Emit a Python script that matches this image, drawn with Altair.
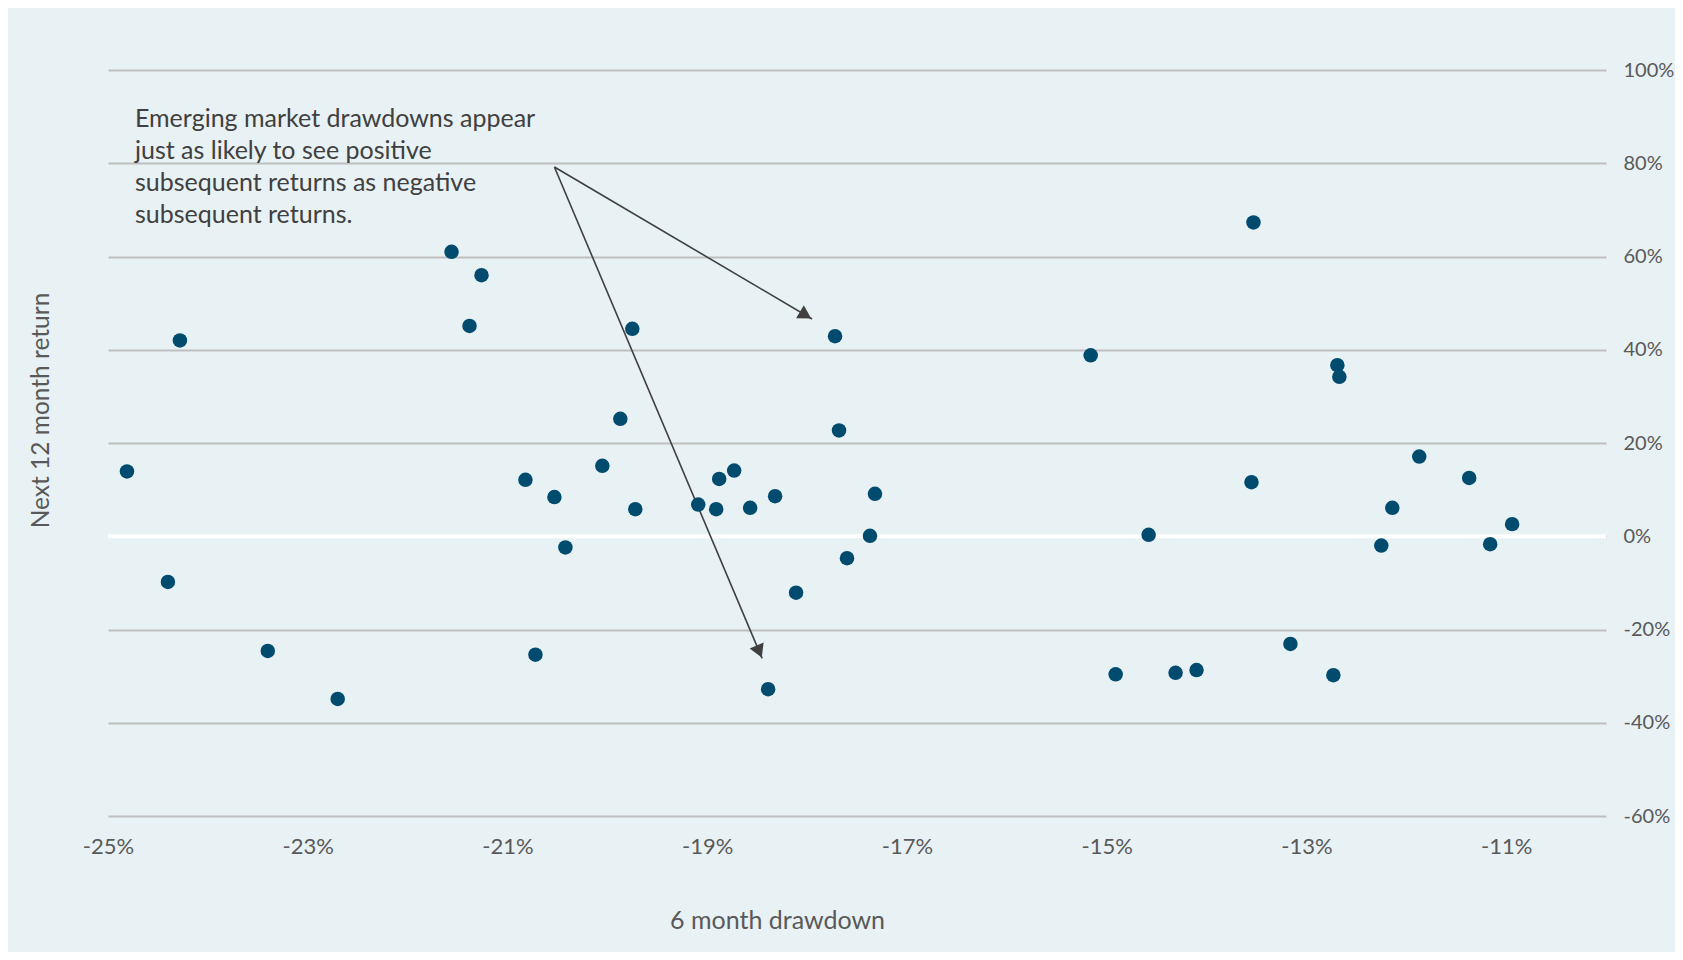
import math
import altair as alt
import pandas as pd

# ---- data ----
drawdown = [-24.81, -24.28, -24.40, -23.40, -22.70, -21.56, -21.26, -21.38, -20.82, -20.72,
            -20.53, -20.42, -20.05, -19.87, -19.75, -19.72, -19.09, -18.91, -18.88, -18.73,
            -18.57, -18.32, -18.39, -18.11, -17.72, -17.68, -17.60, -17.37, -17.32, -15.16,
            -14.91, -14.58, -14.31, -14.10, -13.53, -13.55, -13.16, -12.73, -12.69, -12.67,
            -12.25, -12.14, -11.87, -11.37, -11.16, -10.94]
next_return = [13.9, 42.0, -9.8, -24.6, -34.9, 61.0, 56.0, 45.1, 12.1, -25.4,
               8.4, -2.4, 15.1, 25.2, 44.5, 5.8, 6.8, 5.8, 12.3, 14.1,
               6.1, 8.6, -32.8, -12.1, 42.9, 22.7, -4.7, 0.1, 9.1, 38.8,
               -29.6, 0.3, -29.3, -28.7, 67.3, 11.6, -23.1, -29.8, 36.7, 34.2,
               -2.0, 6.1, 17.1, 12.5, -1.7, 2.6]

x_ticks = [-25, -23, -21, -19, -17, -15, -13, -11]
y_ticks = [-60, -40, -20, 0, 20, 40, 60, 80, 100]
x_domain = [-25, -10]
y_domain = [-60, 100]

note_text = ["Emerging market drawdowns appear", "just as likely to see positive",
             "subsequent returns as negative", "subsequent returns."]
note_pos = [-24.73, 92.0]

arrow_start = [-20.53, 79.2]
arrow_ends_x = [-17.95, -18.45]
arrow_ends_y = [46.6, -26.2]

# ---- layout ----
W, H = 1498, 746
BG = "#E8F1F4"
FONT = "Lato"
TXT = "#595959"
DARK = "#404040"

px_x = W / (x_domain[1] - x_domain[0])
px_y = H / (y_domain[1] - y_domain[0])

pts = pd.DataFrame({"x": drawdown, "y": next_return})

# arrows: shafts and heads
shafts = pd.DataFrame({
    "x": [arrow_start[0]] * 2, "y": [arrow_start[1]] * 2,
    "x2": arrow_ends_x, "y2": arrow_ends_y,
})
head_r = 7.5
hx, hy, ha = [], [], []
for ex, ey in zip(arrow_ends_x, arrow_ends_y):
    dxp = (ex - arrow_start[0]) * px_x
    dyp = -(ey - arrow_start[1]) * px_y
    L = math.hypot(dxp, dyp)
    ux, uy = dxp / L, dyp / L
    ha.append(math.degrees(math.atan2(dxp, -dyp)) % 360)
    hx.append(ex - ux * head_r / px_x)
    hy.append(ey + uy * head_r / px_y)
heads = pd.DataFrame({"x": hx, "y": hy, "a": ha})

xscale = alt.Scale(domain=x_domain, nice=False, zero=False)
yscale = alt.Scale(domain=y_domain, nice=False, zero=False)

xaxis = alt.Axis(values=x_ticks, labelExpr="datum.value + '%'", title="6 month drawdown",
                 grid=False, domain=False, ticks=False, labelPadding=20, labelFlush=False,
                 labelFontSize=22, labelColor=TXT, labelFont=FONT,
                 titleX=669, titleY=104, titleFontSize=25, titleFontWeight="normal",
                 titleColor=TXT, titleFont=FONT, titleAlign="center", titleBaseline="middle")
yaxis = alt.Axis(orient="right", values=y_ticks, labelExpr="datum.value + '%'",
                 title="Next 12 month return", grid=True, gridColor="#BFBFBF", gridWidth=2,
                 domain=False, ticks=False, labelPadding=17, labelAlign="left", labelFlush=False,
                 labelFontSize=20, labelColor=TXT, labelFont=FONT,
                 titleAngle=270, titleX=-(W + 67), titleY=340, titleFontSize=24.5,
                 titleFontWeight="normal", titleColor=TXT, titleFont=FONT,
                 titleAlign="center", titleBaseline="middle")

grid_layer = alt.Chart(pts).mark_point(opacity=0).encode(
    x=alt.X("x:Q", scale=xscale, axis=xaxis),
    y=alt.Y("y:Q", scale=yscale, axis=yaxis),
)

zero_rule = alt.Chart(pd.DataFrame({"y": [0]})).mark_rule(color="white", strokeWidth=4).encode(
    y=alt.Y("y:Q", scale=yscale)
)

dots = alt.Chart(pts).mark_circle(size=210, color="#004B6E", opacity=1).encode(
    x=alt.X("x:Q", scale=xscale),
    y=alt.Y("y:Q", scale=yscale),
)

shaft_layer = alt.Chart(shafts).mark_rule(color=DARK, strokeWidth=1.6).encode(
    x=alt.X("x:Q", scale=xscale), y=alt.Y("y:Q", scale=yscale),
    x2="x2:Q", y2="y2:Q",
)

head_layer = alt.Chart(heads).mark_point(shape="triangle-up", filled=True, color=DARK,
                                         size=230, opacity=1).encode(
    x=alt.X("x:Q", scale=xscale), y=alt.Y("y:Q", scale=yscale),
    angle=alt.Angle("a:Q", scale=None),
)

note = alt.Chart(pd.DataFrame({"x": [note_pos[0]], "y": [note_pos[1]], "t": [note_text]})).mark_text(
    align="left", baseline="top", fontSize=25, lineHeight=32, font=FONT, color=DARK
).encode(
    x=alt.X("x:Q", scale=xscale), y=alt.Y("y:Q", scale=yscale), text="t"
)

chart = alt.layer(grid_layer, zero_rule, shaft_layer, head_layer, dots, note).properties(
    width=W, height=H,
    padding={"left": 100, "top": 62, "right": 69, "bottom": 136},
    autosize=alt.AutoSizeParams(type="none"),
    background=BG,
).configure_view(stroke=None)

chart.save("out.html", embed_options={"renderer": "svg", "actions": False})
